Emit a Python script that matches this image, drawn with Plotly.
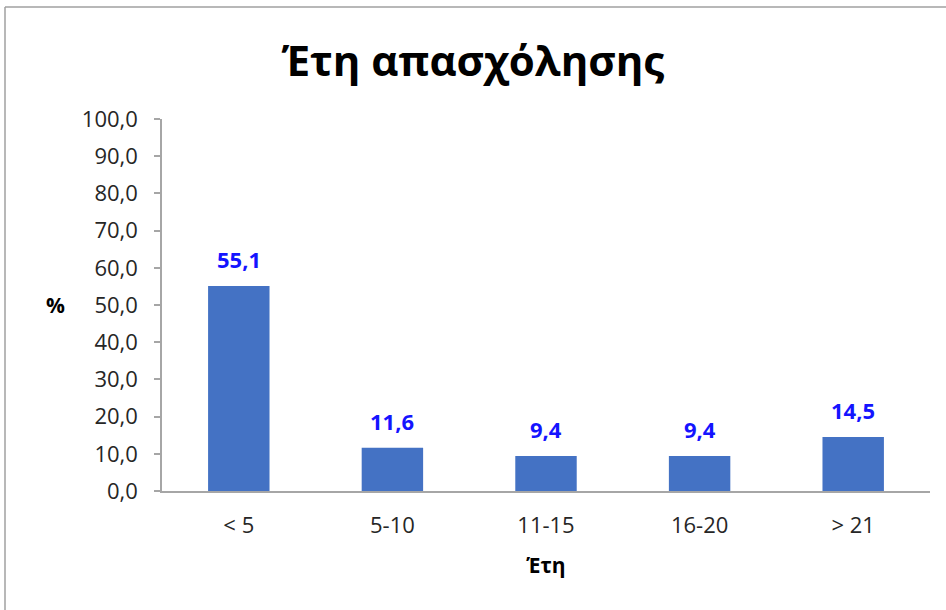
import plotly.graph_objects as go

# Years of employment distribution (%)
categories = ["< 5", "5-10", "11-15", "16-20", "> 21"]
percentages = [55.1, 11.6, 9.4, 9.4, 14.5]
y_ticks = [0, 10, 20, 30, 40, 50, 60, 70, 80, 90, 100]
y_tick_labels = [f"{v:.1f}".replace(".", ",") for v in y_ticks]

FONT = "Open Sans"
BAR_COLOR = "#4472C4"
LABEL_COLOR = "#1414FF"
AXIS_COLOR = "#A6A6A6"

W, H = 946, 610
ML, MR, MT, MB = 162, 16, 119, 119

fig = go.Figure(
    go.Bar(
        x=categories,
        y=percentages,
        marker=dict(color=BAR_COLOR, line=dict(width=0)),
        width=0.4,
        hoverinfo="x+y",
    )
)

# value labels above each bar, decimal comma
for cat, val in zip(categories, percentages):
    fig.add_annotation(
        x=cat, y=val, xref="x", yref="y",
        text=f"<b>{val:.1f}</b>".replace(".", ","),
        showarrow=False, yanchor="bottom", yshift=10,
        font=dict(family=FONT, size=22, color=LABEL_COLOR),
    )

# horizontal "%" axis label
fig.add_annotation(
    x=(55 - ML) / (W - ML - MR), y=(H - MB - 305) / (H - MT - MB),
    xref="paper", yref="paper", text="<b>%</b>", showarrow=False,
    xanchor="center", yanchor="middle",
    font=dict(family=FONT, size=21, color="#000000"),
)

# chart frame (top and left edges)
pw, ph = W - ML - MR, H - MT - MB
fx0 = (5 - ML) / pw
fx1 = (W + 20 - ML) / pw
fy_top = (H - MB - 7) / ph
fy_bot = (H - MB - (H + 20)) / ph
fig.add_shape(type="line", xref="paper", yref="paper",
              x0=fx0, x1=fx1, y0=fy_top, y1=fy_top,
              line=dict(color="#A0A0A0", width=1.5))
fig.add_shape(type="line", xref="paper", yref="paper",
              x0=fx0, x1=fx0, y0=fy_top, y1=fy_bot,
              line=dict(color="#A0A0A0", width=1.5))

fig.update_layout(
    width=W, height=H,
    margin=dict(l=ML, r=MR, t=MT, b=MB, pad=0),
    paper_bgcolor="white", plot_bgcolor="white",
    showlegend=False,
    title=dict(
        text="<b>Έτη απασχόλησης</b>",
        x=0.5, xanchor="center", y=1 - 61 / H, yanchor="middle",
        font=dict(family=FONT, size=42, color="#000000"),
    ),
    xaxis=dict(
        showline=True, linecolor=AXIS_COLOR, linewidth=1.5,
        ticks="", showgrid=False, zeroline=False,
        ticklabelstandoff=14,
        tickfont=dict(family=FONT, size=22, color="#262626"),
        title=dict(text="<b>Έτη</b>", standoff=20,
                   font=dict(family=FONT, size=21, color="#000000")),
    ),
    yaxis=dict(
        range=[0, 100], tickvals=y_ticks, ticktext=y_tick_labels,
        showline=True, linecolor=AXIS_COLOR, linewidth=1.5,
        ticks="outside", ticklen=6, tickcolor=AXIS_COLOR, tickwidth=1.5,
        ticklabelstandoff=12,
        showgrid=False, zeroline=False,
        tickfont=dict(family=FONT, size=22, color="#262626"),
    ),
)

fig.write_html("out.html")
